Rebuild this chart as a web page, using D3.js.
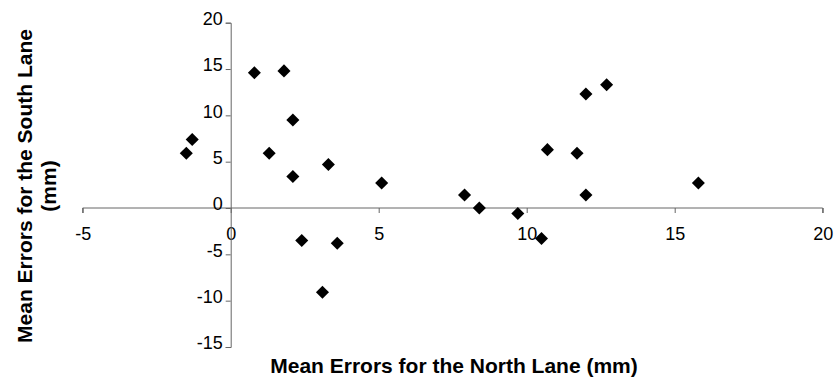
<!DOCTYPE html>
<html>
<head>
<meta charset="utf-8">
<script src="https://cdn.jsdelivr.net/npm/d3@7"></script>
<style>
  body { margin: 0; background: #fff; }
  svg { display: block; font-family: "Liberation Sans", Arial, sans-serif; }
</style>
</head>
<body>
<script>
// mean errors (mm)
const northErr = [-1.5, -1.3, 0.8, 1.8, 2.1, 1.3, 2.1, 3.3, 5.1, 2.4, 3.6, 3.1, 7.9, 8.4, 9.7, 10.5, 10.7, 11.7, 12.0, 12.7, 12.0, 15.8];
const southErr = [5.9, 7.4, 14.6, 14.8, 9.5, 5.9, 3.4, 4.7, 2.7, -3.5, -3.8, -9.1, 1.4, 0.0, -0.6, -3.3, 6.3, 5.9, 12.3, 13.3, 1.4, 2.7];
const xTicks = [-5, 0, 5, 10, 15, 20];
const yTicks = [-15, -10, -5, 0, 5, 10, 15, 20];

const points = northErr.map((x, i) => ({ x: x, y: southErr[i] }));

const width = 836, height = 389;

const svg = d3.select('body').append('svg')
    .attr('width', width)
    .attr('height', height);

const xScale = d3.scaleLinear()
    .domain([-5, 20])
    .range([82.7, 822.7]);

const yScale = d3.scaleLinear()
    .domain([-15, 20])
    .range([347, 22.7]);

const axisColor = '#666';
const plainNum = d => String(d); // hyphen minus like the original, not U+2212

// x axis sits at y = 0
const xAxis = d3.axisBottom(xScale)
    .tickValues(xTicks)
    .tickSize(5)
    .tickPadding(14)
    .tickFormat(plainNum);

const gx = svg.append('g')
    .attr('transform', `translate(0, ${yScale(0)})`)
    .call(xAxis);
gx.select('.domain').attr('stroke', axisColor).attr('d', `M${xScale(-5)},5V0H${xScale(20)}V5`);
gx.selectAll('line').attr('stroke', axisColor);
gx.selectAll('text')
    .style('font-size', '18px')
    .style('font-family', '"Liberation Sans", Arial, sans-serif')
    .attr('fill', '#000');

// y axis sits at x = 0
const yAxis = d3.axisLeft(yScale)
    .tickValues(yTicks)
    .tickSize(5)
    .tickPadding(3)
    .tickFormat(plainNum);

const gy = svg.append('g')
    .attr('transform', `translate(${xScale(0)}, 0)`)
    .call(yAxis);
gy.select('.domain').attr('stroke', axisColor);
gy.selectAll('line').attr('stroke', axisColor);
gy.selectAll('text')
    .attr('dy', '0.1em')
    .style('font-size', '18px')
    .style('font-family', '"Liberation Sans", Arial, sans-serif')
    .attr('fill', '#000');

// diamonds
const diamond = d3.symbol().type(d3.symbolSquare).size(85);

svg.selectAll('path.dot')
    .data(points)
    .enter()
    .append('path')
    .attr('class', 'dot')
    .attr('d', diamond)
    .attr('transform', d => `translate(${xScale(d.x)}, ${yScale(d.y)}) rotate(45)`)
    .attr('fill', '#000');

// axis titles
svg.append('text')
    .attr('x', 454)
    .attr('y', 373)
    .attr('text-anchor', 'middle')
    .style('font-size', '21px')
    .style('font-weight', 'bold')
    .text('Mean Errors for the North Lane (mm)');

const yTitle = svg.append('text')
    .attr('transform', 'translate(32, 186) rotate(-90)')
    .attr('text-anchor', 'middle')
    .style('font-size', '21px')
    .style('font-weight', 'bold');
yTitle.append('tspan').attr('x', 0).attr('dy', 0).text('Mean Errors for the South Lane');
yTitle.append('tspan').attr('x', 0).attr('dy', 24).text('(mm)');
</script>
</body>
</html>
